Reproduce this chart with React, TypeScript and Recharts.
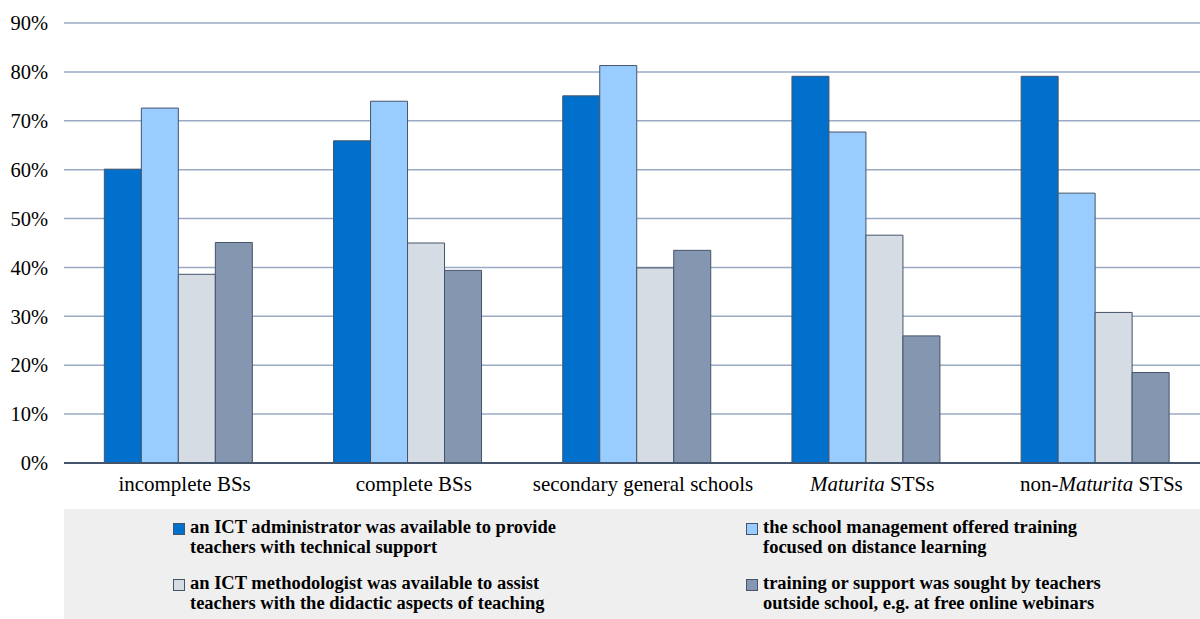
import { BarChart, Bar, XAxis, YAxis, CartesianGrid } from 'recharts';

const categories = ['incomplete BSs', 'complete BSs', 'secondary general schools', 'Maturita STSs', 'non-Maturita STSs'];
const ictAdmin = [60.1, 65.9, 75.1, 79.1, 79.1];
const mgmtTraining = [72.6, 74.0, 81.3, 67.7, 55.2];
const ictMethodologist = [38.6, 45.0, 39.9, 46.6, 30.8];
const outsideSupport = [45.1, 39.4, 43.5, 26.0, 18.5];
const yTicks = [0, 10, 20, 30, 40, 50, 60, 70, 80, 90];

const seriesLabels = [
  ['an ICT administrator was available to provide', 'teachers with technical support'],
  ['the school management offered training', 'focused on distance learning'],
  ['an ICT methodologist was available to assist', 'teachers with the didactic aspects of teaching'],
  ['training or support was sought by teachers', 'outside school, e.g. at free online webinars'],
];
const colors = ['#0070CC', '#99CCFF', '#D6DCE4', '#8496B0'];

const data = categories.map((name, i) => ({
  name,
  admin: ictAdmin[i],
  mgmt: mgmtTraining[i],
  method: ictMethodologist[i],
  outside: outsideSupport[i],
}));

const FONT = '"Liberation Serif", "Times New Roman", serif';

const CategoryTick = (props: any) => {
  const { x, y, payload } = props;
  const v: string = payload.value;
  let content: any = v;
  if (v === 'Maturita STSs') {
    content = [<tspan key="a" fontStyle="italic">Maturita</tspan>, <tspan key="b"> STSs</tspan>];
  } else if (v === 'non-Maturita STSs') {
    content = [<tspan key="a">non-</tspan>, <tspan key="b" fontStyle="italic">Maturita</tspan>, <tspan key="c"> STSs</tspan>];
  }
  return (
    <text x={x + 6} y={y + 20} textAnchor="middle" fill="#000" fontSize={21} fontFamily={FONT}>
      {content}
    </text>
  );
};

const legendPos = [
  { left: 173, top: 517 },
  { left: 746, top: 517 },
  { left: 173, top: 573 },
  { left: 746, top: 573 },
];

export default function App() {
  const keys = ['admin', 'mgmt', 'method', 'outside'];
  return (
    <div style={{ position: 'absolute', left: 0, top: 0, width: 1200, height: 619, overflow: 'hidden', background: '#fff', fontFamily: FONT }}>
      <div style={{ position: 'absolute', left: 64, top: 509, width: 1136, height: 110, background: '#EFEFEF' }} />
      <BarChart
        width={1210}
        height={500}
        data={data}
        margin={{ top: 23, right: 0, left: 0, bottom: 0 }}
        barCategoryGap="17.6%"
        barGap={0}
        style={{ position: 'absolute', left: 0, top: 0 }}
      >
        <CartesianGrid vertical={false} stroke="#9AAAC4" strokeWidth={1.5} />
        <XAxis
          dataKey="name"
          height={37}
          tickLine={false}
          axisLine={{ stroke: '#44546A', strokeWidth: 2 }}
          tick={<CategoryTick />}
          interval={0}
        />
        <YAxis
          width={64}
          domain={[0, 90]}
          ticks={yTicks}
          tickFormatter={(v: number) => `${v}%`}
          axisLine={false}
          tickLine={false}
          tickSize={8}
          tickMargin={8}
          tick={{ fill: '#000', fontSize: 20.5, fontFamily: FONT }}
          interval={0}
        />
        {keys.map((k, i) => (
          <Bar key={k} dataKey={k} fill={colors[i]} stroke="#44546A" strokeWidth={1} isAnimationActive={false} />
        ))}
      </BarChart>
      {seriesLabels.map((lines, i) => (
        <div key={i} style={{ position: 'absolute', left: legendPos[i].left, top: legendPos[i].top, display: 'flex' }}>
          <div
            style={{
              width: 10,
              height: 10,
              marginTop: 6,
              marginRight: 5,
              background: colors[i],
              border: '1px solid #44546A',
              flexShrink: 0,
            }}
          />
          <div style={{ fontWeight: 'bold', fontSize: 18.5, lineHeight: '20px', color: '#000', whiteSpace: 'nowrap' }}>
            {lines[0]}
            <br />
            {lines[1]}
          </div>
        </div>
      ))}
    </div>
  );
}
